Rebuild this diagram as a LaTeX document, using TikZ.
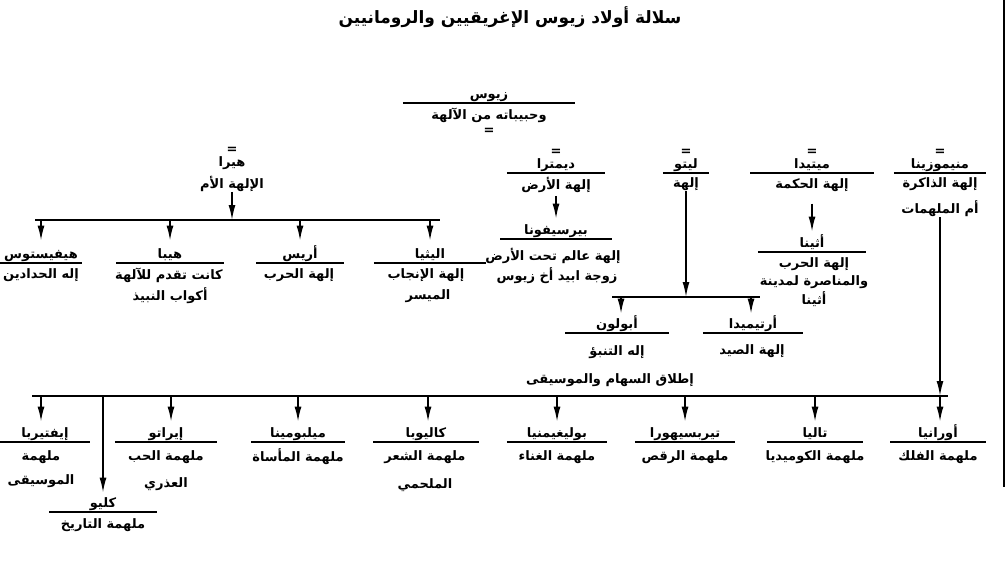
\documentclass[tikz,border=0pt]{standalone}
\usepackage{fontspec}
\TeXXeTstate=1
\newfontfamily\arabicfont[Script=Arabic]{DejaVu Sans}
\usetikzlibrary{arrows.meta}
\newcommand\AR[1]{\beginR #1\endR}
\tikzset{
  txt/.style={inner sep=0pt, font=\arabicfont\bfseries\fontsize{13}{15}\selectfont},
  ttl/.style={inner sep=0pt, font=\arabicfont\bfseries\fontsize{17}{20}\selectfont},
  nm/.style={txt, anchor=south, inner xsep=0pt, inner ysep=1.5pt, text height=10pt, text depth=3pt},
  ul/.style={line width=1.2pt},
  bar/.style={line width=1.6pt},
  arr/.style={line width=1.6pt, -{Latex[length=15pt,width=7pt]}},
  ln/.style={line width=1.6pt}
}
\newcommand\pname[5]{\node[nm, minimum width=#4] (#1) at (#2,#3) {\AR{#5}};
  \draw[ul] (#1.south west) -- (#1.south east);}
\begin{document}
\begin{tikzpicture}[x=1pt,y=-1pt]
\useasboundingbox (0,0) rectangle (1008,588);
% title
\node[ttl] (title) at (510,17) {\AR{سلالة أولاد زيوس الإغريقيين والرومانيين}};
% right border
\coordinate (bt) at (1004,0);
\coordinate (bb) at (1004,487);
\draw[line width=1.3pt] (bt) -- (bb);

% Zeus
\pname{zeus}{489}{103}{172}{زيوس}
\node[txt] (zeust) at (489,115) {\AR{وحبيباته من الآلهة}};
\node[txt] (zeuse) at (489,131) {=};

% Hera
\node[txt] (herae) at (232,150) {=};
\node[txt] (hera) at (232,163) {\AR{هيرا}};
\node[txt] (herat) at (232,184) {\AR{الإلهة الأم}};
% Demeter
\node[txt] (deme) at (556,152) {=};
\pname{dem}{556}{173}{98}{ديمترا}
\node[txt] (demt) at (556,185) {\AR{إلهة الأرض}};
% Leto
\node[txt] (letoe) at (686,152) {=};
\pname{leto}{686}{173}{46}{ليتو}
\node[txt] (letot) at (686,184) {\AR{إلهة}};
% Metis
\node[txt] (metise) at (812,152) {=};
\pname{metis}{812}{173}{123}{ميتيدا}
\node[txt] (metist) at (812,185) {\AR{إلهة الحكمة}};
% Mnemosyne
\node[txt] (mnee) at (940,152) {=};
\pname{mne}{940}{173}{92}{منيموزينا}
\node[txt] (mnet) at (940,184) {\AR{إلهة الذاكرة}};
\node[txt] (mnet2) at (940,209) {\AR{أم الملهمات}};

% Hera's children
\coordinate (hbL) at (35,220);
\coordinate (hbR) at (440,220);
\draw[bar] (hbL) -- (hbR);
\draw[arr] (herat) -- (herat |- hbL);
\coordinate (hb1) at (41,220);
\coordinate (hb2) at (170,220);
\coordinate (hb3) at (300,220);
\coordinate (hb4) at (430,220);
\pname{heph}{41}{263}{82}{هيفيستوس}
\node[txt] (hepht) at (41,275) {\AR{إله الحدادين}};
\pname{hebe}{170}{263}{107}{هيبا}
\node[txt] (hebet) at (169,275) {\AR{كانت تقدم للآلهة}};
\node[txt] (hebet2) at (170,296) {\AR{أكواب النبيذ}};
\pname{ares}{300}{263}{87}{أريس}
\node[txt] (arest) at (299,275) {\AR{إلهة الحرب}};
\pname{ilit}{430}{263}{112}{اليثيا}
\node[txt] (ilitt) at (426,275) {\AR{إلهة الإنجاب}};
\node[txt] (ilitt2) at (428,296) {\AR{الميسر}};
\draw[arr, shorten >=6pt] (hb1) -- (heph.north);
\draw[arr, shorten >=6pt] (hb2) -- (hebe.north);
\draw[arr, shorten >=6pt] (hb3) -- (ares.north);
\draw[arr, shorten >=6pt] (hb4) -- (ilit.north);

% Persephone
\pname{pers}{556}{239}{111}{بيرسيفونا}
\node[txt] (perst) at (553,256) {\AR{إلهة عالم تحت الأرض}};
\node[txt] (perst2) at (557,276) {\AR{زوجة ابيد أخ زيوس}};
\draw[arr, shorten >=4pt, shorten <=3pt] (demt) -- (pers.north);

% Athena
\pname{athe}{812}{252}{108}{أثينا}
\node[txt] (athet) at (814,264) {\AR{إلهة الحرب}};
\node[txt] (athet2) at (814,282) {\AR{والمناصرة لمدينة}};
\node[txt] (athet3) at (814,299) {\AR{أثينا}};
\draw[arr, shorten >=4pt, shorten <=12pt] (metist) -- (athe.north);

% Leto's children
\coordinate (lbL) at (612,297);
\coordinate (lbR) at (760,297);
\draw[bar] (lbL) -- (lbR);
\draw[arr] (letot) -- (letot |- lbL);
\coordinate (lb1) at (621,297);
\coordinate (lb2) at (751,297);
\pname{apol}{617}{333}{103}{أبولون}
\node[txt] (apolt) at (617,352) {\AR{إله التنبؤ}};
\node[txt] (apolt2) at (610,380) {\AR{إطلاق السهام والموسيقى}};
\pname{arte}{753}{333}{100}{أرتيميدا}
\node[txt] (artet) at (752,351) {\AR{إلهة الصيد}};
\draw[arr, shorten >=3pt] (lb1) -- (apol.north -| lb1);
\draw[arr, shorten >=3pt] (lb2) -- (arte.north -| lb2);

% Muses
\coordinate (mbL) at (32,396);
\coordinate (mbR) at (948,396);
\draw[bar] (mbL) -- (mbR);
\draw[arr] (mnet2) -- (mnet2 |- mbL);
\coordinate (mb1) at (41,396);
\coordinate (mbc) at (103,396);
\coordinate (mb2) at (171,396);
\coordinate (mb3) at (298,396);
\coordinate (mb4) at (428,396);
\coordinate (mb5) at (557,396);
\coordinate (mb6) at (685,396);
\coordinate (mb7) at (815,396);
\coordinate (mb8) at (940,396);

\pname{eute}{45}{442}{90}{إيفتيربا}
\node[txt] (eutet) at (41,457) {\AR{ملهمة}};
\node[txt] (eutet2) at (41,481) {\AR{الموسيقى}};
\pname{erat}{166}{442}{102}{إيراتو}
\node[txt] (eratt) at (166,457) {\AR{ملهمة الحب}};
\node[txt] (eratt2) at (166,484) {\AR{العذري}};
\pname{melp}{298}{442}{93}{ميلبومينا}
\node[txt] (melpt) at (298,457) {\AR{ملهمة المأساة}};
\pname{call}{426}{442}{105}{كاليوبا}
\node[txt] (callt) at (425,457) {\AR{ملهمة الشعر}};
\node[txt] (callt2) at (425,485) {\AR{الملحمي}};
\pname{poly}{557}{442}{100}{بوليغيمنيا}
\node[txt] (polyt) at (557,457) {\AR{ملهمة الغناء}};
\pname{terp}{685}{442}{100}{تيربسيهورا}
\node[txt] (terpt) at (685,457) {\AR{ملهمة الرقص}};
\pname{thal}{815}{442}{95}{تاليا}
\node[txt] (thalt) at (815,457) {\AR{ملهمة الكوميديا}};
\pname{uran}{938}{442}{95}{أورانيا}
\node[txt] (urant) at (938,457) {\AR{ملهمة الفلك}};
\pname{clio}{103}{512}{107}{كليو}
\node[txt] (cliot) at (103,525) {\AR{ملهمة التاريخ}};

\draw[arr, shorten >=4pt] (mb1) -- (eute.north -| mb1);
\draw[arr, shorten >=4pt] (mb2) -- (erat.north -| mb2);
\draw[arr, shorten >=4pt] (mb3) -- (melp.north -| mb3);
\draw[arr, shorten >=4pt] (mb4) -- (call.north -| mb4);
\draw[arr, shorten >=4pt] (mb5) -- (poly.north -| mb5);
\draw[arr, shorten >=4pt] (mb6) -- (terp.north -| mb6);
\draw[arr, shorten >=4pt] (mb7) -- (thal.north -| mb7);
\draw[arr, shorten >=4pt] (mb8) -- (uran.north -| mb8);
\draw[arr, shorten >=3pt] (mbc) -- (clio.north);
\end{tikzpicture}
\end{document}
